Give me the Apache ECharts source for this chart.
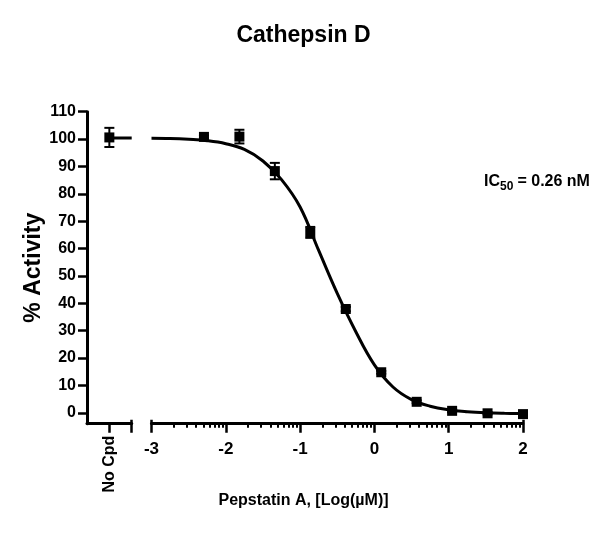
<!DOCTYPE html>
<html>
<head>
<meta charset="utf-8">
<script src="https://cdn.jsdelivr.net/npm/echarts@6/dist/echarts.min.js"></script>
<style>
html,body{margin:0;padding:0;background:#fff;}
#chart{width:607px;height:538px;}
</style>
</head>
<body>
<div id="chart"></div>
<script>
// ---- data ----
var titleText = 'Cathepsin D';
var xAxisName = 'Pepstatin A, [Log(\u00b5M)]';
var yAxisName = '% Activity';
var noCpdLabel = 'No Cpd';
var icLabelMain = 'IC';
var icLabelSub = '50';
var icLabelRest = ' = 0.26 nM';

// No compound control (mean, error)
var noCpdValue = 100.6;
var noCpdError = 3.5;
var noCpdPlateau = 100.4;

// dose points (log uM), means and errors
var logDose = [-2.294, -1.817, -1.340, -0.863, -0.385, 0.092, 0.569, 1.046, 1.523, 2.000];
var activity = [100.8, 100.9, 88.3, 65.9, 37.9, 14.8, 4.0, 0.7, -0.2, -0.5];
var activityErr = [0.5, 2.5, 3.0, 2.0, 0.8, 0.5, 0.5, 0.5, 0.4, 0.4];

// fitted curve
var curveX = [-3, -2.75, -2.5, -2.25, -2, -1.75, -1.5, -1.25, -1, -0.75, -0.5, -0.25, 0, 0.25, 0.5, 0.75, 1, 1.25, 1.5, 1.75, 2];
var curveY = [100.3, 100.2, 99.9, 99.4, 98.3, 96.2, 92.0, 85.2, 75.2, 59.3, 43.6, 29.6, 17.5, 9.4, 4.8, 2.4, 1.1, 0.4, 0.0, -0.2, -0.3];

// axis ticks
var yTicks = [0, 10, 20, 30, 40, 50, 60, 70, 80, 90, 100, 110];
var xTicks = [-3, -2, -1, 0, 1, 2];
var minorOffsets = [0.301, 0.477, 0.602, 0.699, 0.778, 0.845, 0.903, 0.954];
var yMin = -4, yMax = 110;
var xMin = -3, xMax = 2;

// ---- build ----
var minorTicks = [];
for (var d = xMin; d < xMax; d++) {
  minorOffsets.forEach(function (o) { minorTicks.push(+(d + o).toFixed(3)); });
}
var font = 'Liberation Sans, Arial, Helvetica, sans-serif';
var lblY = {color: '#000', fontWeight: 'bold', fontSize: 16, fontFamily: font};
var lblX = {color: '#000', fontWeight: 'bold', fontSize: 17, fontFamily: font};

function pairs(xs, ys) { return xs.map(function (x, i) { return [x, ys[i]]; }); }

function errRender(params, api) {
  var x = api.value(0), lo = api.value(1), hi = api.value(2);
  var p1 = api.coord([x, hi]), p2 = api.coord([x, lo]);
  var c = 5;
  var st = {stroke: '#000', lineWidth: 2};
  return {type: 'group', children: [
    {type: 'line', shape: {x1: p1[0], y1: p1[1], x2: p2[0], y2: p2[1]}, style: st},
    {type: 'line', shape: {x1: p1[0] - c, y1: p1[1], x2: p1[0] + c, y2: p1[1]}, style: st},
    {type: 'line', shape: {x1: p2[0] - c, y1: p2[1], x2: p2[0] + c, y2: p2[1]}, style: st}
  ]};
}

var gridTop = 111.7, gridH = 312;
var axisLineStyle = {color: '#000', width: 3};
var sq = {color: '#000', opacity: 1};

var option = {
  animation: false,
  backgroundColor: '#fff',
  title: [
    {text: titleText, left: 'center', top: 19, textStyle: {color: '#000', fontWeight: 'bold', fontSize: 23, fontFamily: font}},
    {text: xAxisName, left: 'center', top: 488, textStyle: {color: '#000', fontWeight: 'bold', fontSize: 16, fontFamily: font}}
  ],
  grid: [
    {left: 87, top: gridTop, width: 44.7, height: gridH},
    {left: 151.5, top: gridTop, width: 371.5, height: gridH}
  ],
  xAxis: [
    {gridIndex: 0, type: 'value', min: 0, max: 2, position: 'bottom',
      axisLine: {show: true, onZero: false, lineStyle: axisLineStyle},
      axisTick: {show: true, customValues: [1, 2], length: 9, lineStyle: {color: '#000', width: 2.5}},
      axisLabel: {show: true, customValues: [1], formatter: function () { return noCpdLabel; }, rotate: 90, margin: 12, color: '#000', fontWeight: 'bold', fontSize: 16, fontFamily: font},
      splitLine: {show: false}},
    {gridIndex: 0, type: 'value', min: 0, max: 2, position: 'bottom',
      axisLine: {show: false, onZero: false},
      axisTick: {show: true, inside: true, customValues: [2], length: 4, lineStyle: {color: '#000', width: 2.5}},
      axisLabel: {show: false}, splitLine: {show: false}},
    {gridIndex: 1, type: 'value', min: xMin, max: xMax, position: 'bottom',
      axisLine: {show: true, onZero: false, lineStyle: axisLineStyle},
      axisTick: {show: true, customValues: xTicks, length: 9, lineStyle: {color: '#000', width: 2.5}},
      axisLabel: Object.assign({show: true, customValues: xTicks, margin: 17}, lblX),
      splitLine: {show: false}},
    {gridIndex: 1, type: 'value', min: xMin, max: xMax, position: 'bottom',
      axisLine: {show: false, onZero: false},
      axisTick: {show: true, customValues: minorTicks, length: 4, lineStyle: {color: '#000', width: 2}},
      axisLabel: {show: false}, splitLine: {show: false}},
    {gridIndex: 1, type: 'value', min: xMin, max: xMax, position: 'bottom',
      axisLine: {show: false, onZero: false},
      axisTick: {show: true, inside: true, customValues: [xMin, xMax], length: 4, lineStyle: {color: '#000', width: 2.5}},
      axisLabel: {show: false}, splitLine: {show: false}}
  ],
  yAxis: [
    {gridIndex: 0, type: 'value', min: yMin, max: yMax, position: 'left',
      name: yAxisName, nameLocation: 'middle', nameRotate: 90, nameGap: 42,
      nameTextStyle: {color: '#000', fontWeight: 'bold', fontSize: 23, fontFamily: font},
      axisLine: {show: true, onZero: false, lineStyle: axisLineStyle},
      axisTick: {show: true, customValues: yTicks, length: 9, lineStyle: {color: '#000', width: 2.5}},
      axisLabel: Object.assign({show: true, customValues: yTicks, margin: 11}, lblY),
      splitLine: {show: false}},
    {gridIndex: 1, type: 'value', min: yMin, max: yMax, show: false, splitLine: {show: false}}
  ],
  graphic: [
    {type: 'text', left: 484, top: 174, style: {text: icLabelMain, fill: '#000', font: 'bold 16px ' + font}},
    {type: 'text', left: 500, top: 181, style: {text: icLabelSub, fill: '#000', font: 'bold 12px ' + font}},
    {type: 'text', left: 513, top: 174, style: {text: icLabelRest, fill: '#000', font: 'bold 16px ' + font}}
  ],
  series: [
    {type: 'line', xAxisIndex: 0, yAxisIndex: 0, data: [[1, noCpdPlateau], [2, noCpdPlateau]],
      showSymbol: false, symbol: 'none', lineStyle: {color: '#000', width: 3}, z: 2},
    {type: 'custom', xAxisIndex: 0, yAxisIndex: 0, renderItem: errRender,
      data: [[1, noCpdValue - noCpdError, noCpdValue + noCpdError]], z: 3},
    {type: 'scatter', xAxisIndex: 0, yAxisIndex: 0, data: [[1, noCpdValue]], symbol: 'rect', symbolSize: 10,
      itemStyle: sq, z: 4},
    {type: 'line', xAxisIndex: 2, yAxisIndex: 1, data: pairs(curveX, curveY), smooth: 0.4,
      showSymbol: false, symbol: 'none', lineStyle: {color: '#000', width: 3}, z: 2},
    {type: 'custom', xAxisIndex: 2, yAxisIndex: 1, renderItem: errRender,
      data: logDose.map(function (x, i) { return [x, activity[i] - activityErr[i], activity[i] + activityErr[i]]; }), z: 3},
    {type: 'scatter', xAxisIndex: 2, yAxisIndex: 1, data: pairs(logDose, activity), symbol: 'rect', symbolSize: 10,
      itemStyle: sq, z: 4}
  ]
};
var chart = echarts.init(document.getElementById('chart'), null, {renderer: 'canvas'});
chart.setOption(option);
</script>
</body>
</html>
